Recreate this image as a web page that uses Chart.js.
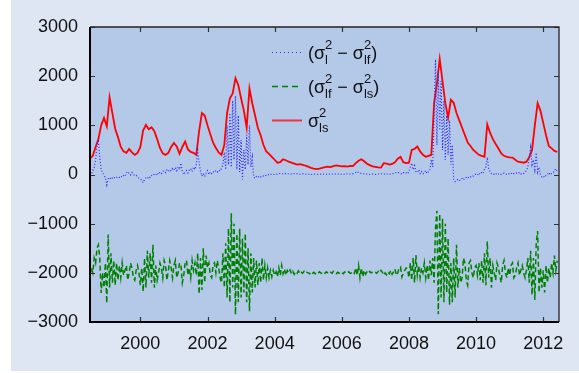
<!DOCTYPE html>
<html>
<head>
<meta charset="utf-8">
<script src="https://cdn.jsdelivr.net/npm/chart.js@4.4.1/dist/chart.umd.min.js"></script>
<style>
  html, body { margin: 0; padding: 0; background: #fff; }
  #wrap { width: 579px; height: 373px; position: relative; }
</style>
</head>
<body>
<div id="wrap"><canvas id="chart" width="579" height="373"></canvas></div>
<script>
// ===== Data
const startYear = 1998.5;
const monthStep = 1 / 12;
const halfMonthStep = 1 / 24;

const xTickVals = [2000, 2002, 2004, 2006, 2008, 2010, 2012];
const yTickVals = [-3000, -2000, -1000, 0, 1000, 2000, 3000];

// sigma^2_ls, monthly from 1998.5
const sigmaLs = [
  330, 380, 560, 720, 1000, 1150,
  980, 1570, 1250, 930, 760, 560, 470, 440, 520, 450, 400, 440,
  560, 900, 1010, 920, 960, 880, 720, 540, 430, 400, 440, 560,
  640, 570, 420, 560, 670, 510, 460, 440, 400, 880, 1250, 1200,
  1000, 820, 650, 540, 450, 400, 600, 1250, 1550, 1650, 1960, 1820,
  1550, 1300, 950, 1750, 1450, 1200, 950, 800, 600, 470, 420, 360,
  300, 240, 250, 310, 290, 260, 240, 220, 200, 210, 195, 180,
  160, 135, 120, 110, 120, 135, 150, 160, 150, 170, 185, 175,
  165, 170, 160, 175, 170, 230, 280, 310, 270, 220, 190, 165,
  155, 145, 140, 230, 220, 200, 215, 250, 320, 360, 250, 230,
  240, 500, 520, 570, 470, 400, 360, 380, 400, 1450, 1850, 2350,
  1900, 1450, 1150, 1520, 1460, 1250, 1100, 950, 800, 650, 580, 500,
  450, 400, 380, 360, 1020, 850, 720, 620, 530, 430, 380, 360,
  350, 345, 300, 260, 250, 240, 260, 350, 500, 1000, 1450, 1300,
  1050, 800, 580, 530, 480, 460
];

// sigma^2_l - sigma^2_lf, half-monthly from 1998.5
const diffLLf = [
  20, 0, 80, 150, 300, 600, 680, 350, 100, 40, -20, -60,
  -210, -90, -60, -100, -70, -50, -80, -60, -40, -60, -30, -50,
  -20, -40, 30, 60, 20, -10, 40, 10, -30, -20, -50, -70,
  -90, -120, -165, -100, -70, -90, -40, -60, -20, -30, 10, -10,
  30, 0, 50, 20, 60, 80, 40, 90, 60, 100, 70, 120,
  90, 140, 80, 160, 100, 230, 60, 0, 40, 80, 30, 90,
  120, 60, 150, 100, 200, 500, 250, 60, -30, 20, -40, 30,
  80, 0, 50, 20, 60, 40, 80, 50, 90, 70, 120, 200,
  450, 100, 1000, 200, 1250, 150, 1500, 300, 1600, 100, 1200, 50,
  700, -100, 500, 100, 800, 200, 1000, 150, 350, -50, -80, -40,
  -60, -30, -50, -20, -30, -10, -20, 0, -10, 10, 0, 5,
  0, 10, 5, 15, 20, 10, 15, 5, 20, 10, 15, 20,
  10, 15, 20, 10, 15, 10, 5, 10, 15, 10, 5, 10,
  5, 10, 0, 5, 10, 5, 0, 5, 10, 5, 10, 5,
  10, 5, 15, 10, 5, 10, 15, 10, 5, 10, 5, 10,
  5, 10, 5, 15, 10, 5, 10, 20, 15, 30, 40, 60,
  40, 30, 20, 15, 10, 5, 10, 5, 0, 5, 10, 5,
  0, 5, 10, 5, 15, 10, 5, 20, 10, 15, 5, 10,
  15, 20, 30, 40, 50, 30, 20, 10, 40, 20, 30, 10,
  60, 150, 230, 100, 180, 60, 40, 100, 20, 60, 10, 40,
  80, 20, 60, 100, 300, 150, 1200, 2340, 600, 2100, 900, 1900,
  500, 1500, 300, 1200, 400, 1100, 200, 600, -100, -145, -120, -100,
  -130, -100, -80, -110, -70, -60, -80, -40, -50, -20, -30, 0,
  10, -10, 30, 0, 40, 20, 100, 150, 350, 120, 60, 20,
  30, 0, 20, -10, 10, 20, 0, 15, 30, 10, 0, 20,
  10, 30, 0, 20, 10, 30, 20, 40, 10, 30, 20, 50,
  80, 150, 350, 550, 200, 300, 100, 440, 50, 150, 0, -50,
  -30, -60, -20, 0, 40, -10, 20, 30, 80, 120, 60
];

// sigma^2_lf - sigma^2_ls, half-monthly from 1998.5
const diffLfLs = [
  -2050, -1900, -2000, -1700, -1800, -1500, -1430, -1700, -2410, -2000, -2300, -1800,
  -2615, -1220, -2300, -1600, -2200, -1750, -2250, -1800, -2150, -1850, -2100, -1800,
  -2050, -1950, -1850, -2150, -2000, -1800, -1900, -2100, -2150, -1950, -1850, -2000,
  -2250, -1900, -2380, -1700, -2300, -1550, -2100, -1600, -2200, -1430, -2300, -1850,
  -2150, -2000, -1800, -1900, -2100, -1750, -1850, -2150, -1950, -1750, -1900, -2100,
  -1850, -1750, -2100, -2000, -1800, -1850, -2200, -2050, -1800, -1750, -2050, -1900,
  -2100, -1750, -1950, -1800, -2050, -1600, -2430, -1700, -2350, -1500, -2200, -1650,
  -1900, -1800, -2050, -2100, -1850, -1800, -2000, -1750, -1900, -2100, -2200, -1600,
  -2300, -1400, -2500, -1100, -2600, -790, -2300, -1000, -2850, -1200, -2600, -1100,
  -2500, -1300, -2400, -1200, -2600, -1500, -2780, -1600, -2400, -1700, -2300, -1750,
  -2250, -1800, -2200, -1700, -2150, -1850, -2100, -1900, -2100, -1950, -2080, -1950,
  -2050, -1980, -2080, -1900, -2050, -1850, -2020, -1920, -2050, -1950, -2000, -1940,
  -2020, -1970, -2030, -1980, -2010, -1960, -2020, -1990, -2010, -1970, -2010, -1990,
  -2000, -2020, -1980, -2010, -1990, -2020, -1990, -2010, -1980, -2000, -2020, -1990,
  -2010, -1980, -2000, -2020, -1990, -2010, -1970, -2000, -2020, -1990, -2010, -1980,
  -2000, -2020, -1980, -2010, -2000, -1980, -2010, -2000, -1970, -2010, -1900, -2050,
  -1850, -2100, -1900, -2080, -1950, -2030, -1980, -2010, -1970, -2000, -1990, -2010,
  -1990, -2010, -1970, -2000, -1950, -1990, -2050, -2000, -2040, -1980, -2020, -1950,
  -2030, -1980, -1920, -2050, -2000, -1900, -1880, -2080, -2000, -1950, -1900, -1930,
  -2100, -1800, -2150, -1700, -2200, -1640, -2050, -1850, -2100, -1900, -2000, -1800,
  -2100, -1850, -2150, -1750, -2050, -1700, -2200, -1100, -740, -2840, -800, -2500,
  -900, -2600, -1000, -2400, -1300, -2650, -1800, -2600, -1700, -2500, -1430, -2300,
  -1900, -2200, -2100, -1700, -1800, -2150, -2250, -1800, -1750, -2000, -2100, -1900,
  -1850, -2050, -1800, -2150, -1750, -2200, -1600, -2250, -1360, -2100, -1700, -2300,
  -1850, -2000, -2150, -1800, -1900, -2050, -2200, -1850, -1750, -2000, -2100, -1900,
  -2050, -1850, -1800, -2100, -2050, -1900, -1800, -2050, -1950, -1850, -2000, -2100,
  -1950, -1700, -2200, -1550, -2450, -1700, -2550, -1400, -1150, -2400, -1900, -2300,
  -1950, -2400, -1850, -2200, -1900, -2100, -1800, -2000, -1650, -1950, -1750
];

const toPoints = (vals, step) => vals.map((v, i) => ({ x: startYear + i * step, y: v }));

// ===== Colours
const outerBg = '#dfe6f3';
const plotBg = '#b4c8e8';
const blue = '#2b2bff';
const green = '#008000';
const red = '#ff0000';

// ===== Background + frame + legend drawn on the canvas
const decor = {
  id: 'decor',
  beforeDraw(chart) {
    const { ctx, chartArea: a } = chart;
    ctx.save();
    ctx.fillStyle = '#fff';
    ctx.fillRect(0, 0, chart.width, chart.height);
    ctx.fillStyle = outerBg;
    ctx.fillRect(11, 0, chart.width - 11, 371);
    ctx.fillStyle = plotBg;
    ctx.fillRect(a.left, a.top, a.right - a.left, a.bottom - a.top);
    ctx.restore();
  },
  afterDraw(chart) {
    const { ctx, chartArea: a, scales } = chart;
    ctx.save();
    // inner ticks
    ctx.strokeStyle = '#333';
    ctx.lineWidth = 1.2;
    scales.x.ticks.forEach(t => {
      const px = Math.round(scales.x.getPixelForValue(t.value)) + 0.5;
      ctx.beginPath();
      ctx.moveTo(px, a.bottom); ctx.lineTo(px, a.bottom - 5);
      ctx.moveTo(px, a.top); ctx.lineTo(px, a.top + 5);
      ctx.stroke();
    });
    scales.y.ticks.forEach(t => {
      const py = Math.round(scales.y.getPixelForValue(t.value)) + 0.5;
      ctx.beginPath();
      ctx.moveTo(a.left, py); ctx.lineTo(a.left + 5, py);
      ctx.moveTo(a.right, py); ctx.lineTo(a.right - 5, py);
      ctx.stroke();
    });
    // frame
    ctx.strokeStyle = '#222';
    ctx.lineWidth = 1.3;
    ctx.beginPath();
    ctx.moveTo(a.left, a.top); ctx.lineTo(a.right, a.top); ctx.lineTo(a.right, a.bottom);
    ctx.stroke();
    ctx.strokeStyle = '#000';
    ctx.lineWidth = 2;
    ctx.beginPath();
    ctx.moveTo(a.left, a.top); ctx.lineTo(a.left, a.bottom); ctx.lineTo(a.right, a.bottom);
    ctx.stroke();

    // legend with super/subscripts
    const entries = [
      { color: blue, dash: [1, 3], width: 1.2, y: 52,
        parts: [['(σ', 'm'], ['2', 'p'], ['l', 'b'], [' − σ', 'm'], ['2', 'p'], ['lf', 'b'], [')', 'm']] },
      { color: green, dash: [6, 4], width: 1.5, y: 86,
        parts: [['(σ', 'm'], ['2', 'p'], ['lf', 'b'], [' − σ', 'm'], ['2', 'p'], ['ls', 'b'], [')', 'm']] },
      { color: '#ee3344', dash: [], width: 2, y: 120,
        parts: [['σ', 'm'], ['2', 'p'], ['ls', 'b']] }
    ];
    const mainFont = '18px "Liberation Sans", Arial, sans-serif';
    const smallFont = '13px "Liberation Sans", Arial, sans-serif';
    entries.forEach(e => {
      ctx.strokeStyle = e.color;
      ctx.lineWidth = e.width;
      ctx.setLineDash(e.dash);
      ctx.beginPath();
      ctx.moveTo(272, e.y + 0.5); ctx.lineTo(302, e.y + 0.5);
      ctx.stroke();
      ctx.setLineDash([]);

      ctx.fillStyle = '#111';
      ctx.textBaseline = 'alphabetic';
      ctx.textAlign = 'left';
      let x = 308;
      let scriptStart = null, scriptW = 0;
      e.parts.forEach(([txt, kind]) => {
        if (kind === 'm') {
          if (scriptStart !== null) { x = scriptStart + scriptW; scriptStart = null; scriptW = 0; }
          ctx.font = mainFont;
          ctx.fillText(txt, x, e.y + 7);
          x += ctx.measureText(txt).width;
        } else {
          if (scriptStart === null) scriptStart = x;
          ctx.font = smallFont;
          const yy = kind === 'p' ? e.y - 3 : e.y + 12;
          ctx.fillText(txt, scriptStart, yy);
          scriptW = Math.max(scriptW, ctx.measureText(txt).width);
        }
      });
    });
    ctx.restore();
  }
};

Chart.defaults.font.family = '"Liberation Sans", Arial, sans-serif';
Chart.defaults.font.size = 18;
Chart.defaults.color = '#111';

new Chart(document.getElementById('chart'), {
  type: 'line',
  data: {
    datasets: [
      { label: 'σl² − σlf²', data: toPoints(diffLLf, halfMonthStep), borderColor: blue,
        borderWidth: 1.2, borderDash: [1, 2] },
      { label: 'σlf² − σls²', data: toPoints(diffLfLs, halfMonthStep), borderColor: green,
        borderWidth: 1.5, borderDash: [5, 3] },
      { label: 'σls²', data: toPoints(sigmaLs, monthStep), borderColor: red,
        borderWidth: 1.8 }
    ]
  },
  options: {
    responsive: false,
    animation: false,
    parsing: false,
    elements: { point: { radius: 0 }, line: { tension: 0, fill: false } },
    layout: { padding: { left: 0, right: 20, top: 27, bottom: 0 } },
    plugins: { legend: { display: false }, tooltip: { enabled: false } },
    scales: {
      x: {
        type: 'linear', min: 1998.5, max: 2012.47,
        grid: { display: false, drawTicks: false }, border: { display: false },
        afterBuildTicks: s => { s.ticks = xTickVals.map(v => ({ value: v })); },
        afterFit: s => { s.height = 51; },
        ticks: { padding: 11, maxRotation: 0, callback: v => String(v) }
      },
      y: {
        min: -3000, max: 3000,
        grid: { display: false, drawTicks: false }, border: { display: false },
        afterBuildTicks: s => { s.ticks = yTickVals.map(v => ({ value: v })); },
        afterFit: s => { s.width = 90; },
        ticks: { padding: 12, callback: v => v < 0 ? '−' + Math.abs(v) : String(v) }
      }
    }
  },
  plugins: [decor]
});
</script>
</body>
</html>
